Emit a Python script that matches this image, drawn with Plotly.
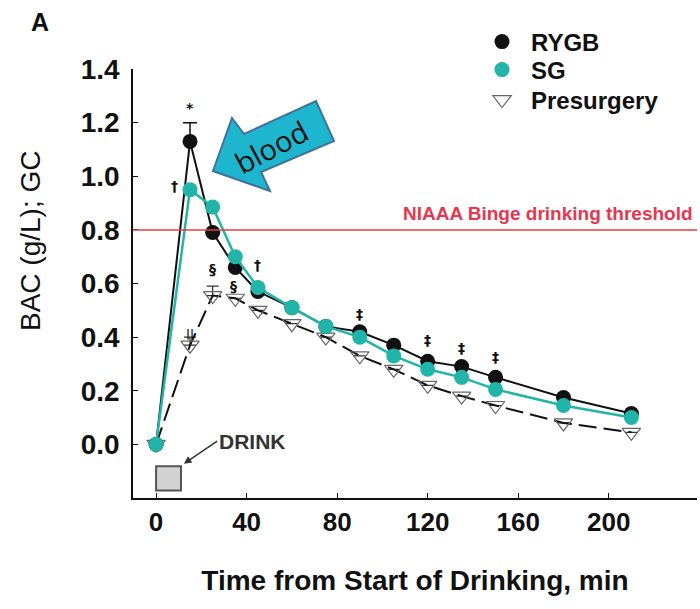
import plotly.graph_objects as go

time_min = [0, 15, 25, 35, 45, 60, 75, 90, 105, 120, 135, 150, 180, 210]
rygb = [0.0, 1.13, 0.79, 0.66, 0.57, 0.51, 0.44, 0.42, 0.37, 0.31, 0.29, 0.25, 0.175, 0.115]
sg = [0.0, 0.95, 0.885, 0.70, 0.585, 0.51, 0.44, 0.40, 0.33, 0.28, 0.25, 0.205, 0.145, 0.10]
presurgery = [0.0, 0.37, 0.555, 0.545, 0.50, 0.45, 0.40, 0.33, 0.28, 0.22, 0.18, 0.145, 0.08, 0.045]
rygb_err = [0, 0.07, 0, 0, 0, 0, 0, 0, 0, 0, 0, 0, 0, 0]
pre_err = [0, 0.03, 0.035, 0, 0, 0, 0, 0, 0, 0, 0, 0, 0, 0]

x_ticks = [0, 40, 80, 120, 160, 200]
y_ticks = [0.0, 0.2, 0.4, 0.6, 0.8, 1.0, 1.2, 1.4]
threshold = 0.8

sig_x = [15, 8, 15, 25, 34, 45, 90, 120, 135, 150]
sig_y = [1.255, 0.965, 0.415, 0.655, 0.59, 0.67, 0.485, 0.39, 0.36, 0.325]
sig_txt = ["*", "†", "||", "§", "§", "†", "‡", "‡", "‡", "‡"]

TEAL = "#20B5A8"
FONT = "Liberation Sans"

# pixel -> paper conversion for decorations
L, T, W, H = 133, 69, 564, 429
def px(x, y):
    return (x - L) / W, (T + H - y) / H

fig = go.Figure()

fig.add_trace(go.Scatter(
    x=time_min, y=presurgery, mode="lines+markers", showlegend=False,
    line=dict(color="#111", width=2, dash="18px,7px"),
    marker=dict(symbol="triangle-down-open", size=16, color="#666", line=dict(width=1.2)),
    error_y=dict(type="data", array=pre_err, arrayminus=[0]*len(pre_err), color="#333", thickness=1.2, width=6),
))
fig.add_trace(go.Scatter(
    x=time_min, y=rygb, mode="lines+markers", showlegend=False,
    line=dict(color="#111", width=2),
    marker=dict(symbol="circle", size=15, color="#111"),
    error_y=dict(type="data", array=rygb_err, arrayminus=[0]*len(rygb_err), color="#111", thickness=1.5, width=7),
))
fig.add_trace(go.Scatter(
    x=time_min, y=sg, mode="lines+markers", showlegend=False,
    line=dict(color=TEAL, width=2.5),
    marker=dict(symbol="circle", size=15, color=TEAL),
))

# legend-only traces, each in its own legend box for tight spacing
legend_names = ["RYGB", "SG", "Presurgery"]
legend_markers = [dict(symbol="circle", size=15, color="#111"),
                  dict(symbol="circle", size=15, color=TEAL),
                  dict(symbol="triangle-down-open", size=16, color="#666", line=dict(width=1.2))]
legend_ids = ["legend", "legend2", "legend3"]
legend_py = [42, 70, 100]
for nm, mk, lid in zip(legend_names, legend_markers, legend_ids):
    fig.add_trace(go.Scatter(x=[None], y=[None], mode="markers", name=nm, marker=mk, legend=lid))

leg_common = dict(xanchor="left", yanchor="middle", bgcolor="rgba(0,0,0,0)",
                  font=dict(family=FONT, size=24, color="#111", weight="bold"),
                  itemwidth=48, borderwidth=0)
legend_layout = {}
for lid, py in zip(legend_ids, legend_py):
    lx, ly = px(473, py)
    legend_layout[lid] = dict(x=lx, y=ly, **leg_common)

# threshold line
fig.add_shape(type="line", xref="paper", yref="y", x0=0, x1=1, y0=threshold, y1=threshold,
              line=dict(color="#E53C3C", width=1.5))
fig.add_annotation(xref="paper", yref="y", x=0.997, y=threshold, xanchor="right", yanchor="bottom",
                   yshift=4, text="NIAAA Binge drinking threshold", showarrow=False,
                   font=dict(family=FONT, size=19, color="#E8364F", weight="bold"))

# drink box
fig.add_shape(type="rect", xref="x", yref="y", x0=0, x1=11, y0=-0.172, y1=-0.082,
              fillcolor="#D3D3D3", line=dict(color="#555", width=2))
fig.add_annotation(xref="x", yref="y", x=12.3, y=-0.072, ax=27.0, ay=0.012, axref="x", ayref="y",
                   text="DRINK", showarrow=True, arrowhead=2, arrowsize=1, arrowwidth=1.5,
                   arrowcolor="#333", xanchor="left", yanchor="middle",
                   font=dict(family=FONT, size=21, color="#333", weight="bold"))

# significance markers
for sx, sy, st in zip(sig_x, sig_y, sig_txt):
    fig.add_annotation(x=sx, y=sy, text=st, showarrow=False, xanchor="center", yanchor="middle",
                       font=dict(family="DejaVu Sans", size=14 if st != "||" else 11, color="#111", weight="bold"))

# "blood" block arrow
pts = [(213, 171), (232, 118), (244, 134), (316, 101), (334, 141), (261, 172), (270, 191)]
path = "M " + " L ".join(f"{px(a, b)[0]:.4f},{px(a, b)[1]:.4f}" for a, b in pts) + " Z"
fig.add_shape(type="path", xref="paper", yref="paper", path=path,
              fillcolor="#1EB6CF", line=dict(color="#41719C", width=2))
bx, by = px(271, 146)
fig.add_annotation(xref="paper", yref="paper", x=bx, y=by, text="blood", showarrow=False,
                   xanchor="center", yanchor="middle",
                   textangle=-28, font=dict(family="Open Sans", size=29, color="#111"))

# panel label
ax_, ay_ = px(40, 22)
fig.add_annotation(xref="paper", yref="paper", x=ax_, y=ay_, text="A", xanchor="center", yanchor="middle",
                   showarrow=False, font=dict(family=FONT, size=25, color="#111", weight="bold"))

# y-axis title (placed as in reference, above plot centre)
tx, ty = px(30, 241)
fig.add_annotation(xref="paper", yref="paper", x=tx, y=ty, text="BAC (g/L); GC", textangle=-90,
                   showarrow=False, xanchor="center", yanchor="middle",
                   font=dict(family=FONT, size=28, color="#111"))

fig.update_layout(
    width=700, height=609, margin=dict(l=133, r=3, t=69, b=111),
    plot_bgcolor="white", paper_bgcolor="white",
    font=dict(family=FONT, color="#111"),
    **legend_layout,
)
fig.update_xaxes(range=[-10.2, 239], tickvals=x_ticks, ticks="inside", ticklen=5,
                 tickcolor="#111", showline=True, linecolor="#111", linewidth=1.5,
                 showgrid=False, zeroline=False,
                 tickfont=dict(family=FONT, size=26, color="#111", weight="bold"),
                 title=dict(text="Time from Start of Drinking, min", standoff=34,
                            font=dict(family=FONT, size=28, color="#111", weight="bold")))
fig.update_yaxes(range=[-0.2, 1.4], tickvals=y_ticks, tickformat=".1f", ticks="inside", ticklen=5,
                 tickcolor="#111", showline=True, linecolor="#111", linewidth=1.5,
                 showgrid=False, zeroline=False, ticklabelstandoff=6,
                 tickfont=dict(family=FONT, size=28, color="#111", weight="bold"))

fig.write_html("out.html")
